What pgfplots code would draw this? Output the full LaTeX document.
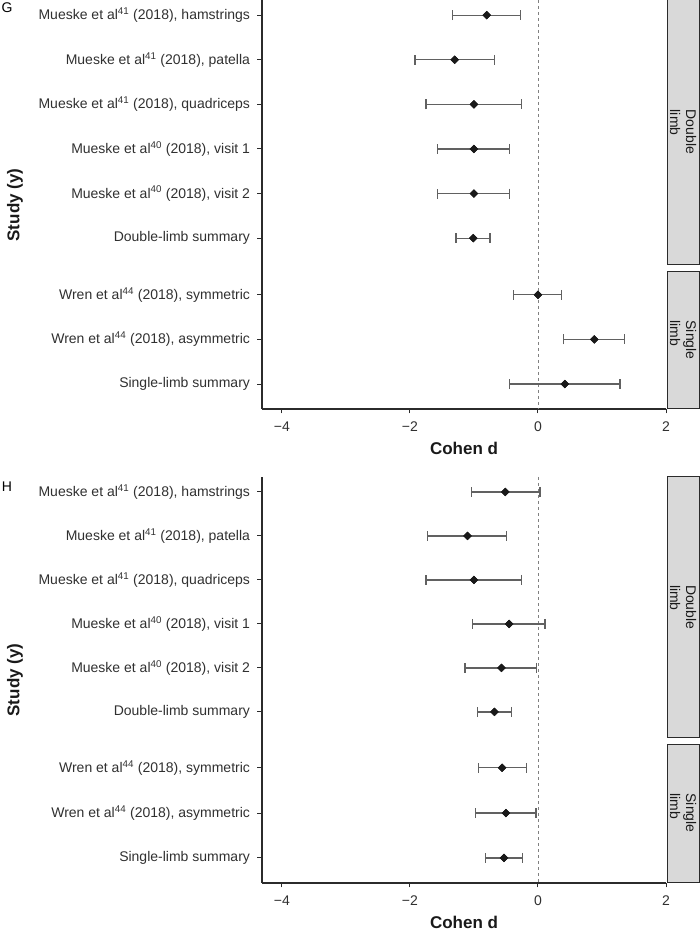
\documentclass[border=0pt]{standalone}
\usepackage{fontspec}
\setmainfont{Liberation Sans}
\usepackage{pgfplots}
\pgfplotsset{compat=1.18}
\usepackage{pgfplotstable}
\definecolor{axcol}{HTML}{2B2B2B}
\definecolor{txtcol}{HTML}{303030}
\definecolor{stripfill}{HTML}{D9D9D9}
\definecolor{barcol}{HTML}{616161}
\definecolor{zerocol}{HTML}{808080}

% pos = -(row position), d = Cohen d, em/ep = distances to lower/upper CI limit
\pgfplotstableread{
pos d em ep
0 -0.80 0.54 0.53
-1 -1.30 0.62 0.62
-2 -1.00 0.75 0.74
-3 -1.00 0.57 0.56
-4 -1.00 0.57 0.56
-5 -1.01 0.27 0.26
-6.27 0.00 0.38 0.37
-7.27 0.88 0.48 0.47
-8.27 0.42 0.86 0.86
}\dataG

\pgfplotstableread{
pos d em ep
0 -0.51 0.53 0.54
-1 -1.10 0.62 0.61
-2 -1.00 0.75 0.74
-3 -0.45 0.57 0.56
-4 -0.57 0.57 0.55
-5 -0.68 0.27 0.27
-6.27 -0.56 0.37 0.38
-7.30 -0.50 0.47 0.47
-8.32 -0.53 0.29 0.29
}\dataH

\newcommand{\tfont}{\fontsize{14}{16}\selectfont}
\newcommand{\Tfont}{\fontsize{17}{20}\selectfont\bfseries}

\pgfplotsset{
  forest/.style={
    scale only axis, width=404pt,
    xmin=-4.31, xmax=2,
    axis x line*=bottom, axis y line*=left,
    axis line style={axcol, line width=1.2pt},
    tick style={axcol, line width=1pt},
    tick align=outside, major tick length=4.5pt,
    xtick={-4,-2,0,2}, xticklabels={−4,−2,0,2},
    ticklabel style={font=\tfont, text=txtcol},
    xticklabel style={yshift=-5pt},
    yticklabel style={xshift=-4pt},
    clip=false,
  },
  errs/.style={only marks, mark=square*, mark size=2.7pt,
    mark options={rotate=45, fill=black!90, draw=black!90},
    error bars/.cd, x dir=both, x explicit, error mark=|,
    error bar style={barcol, line width=1.25pt},
    error mark options={barcol, line width=1.25pt, mark size=5pt}},
  pts/.style={only marks, mark=square*, mark size=2.8pt,
    mark options={rotate=45, fill=black!90, draw=black!90}},
}

\begin{document}
\begin{tikzpicture}
\useasboundingbox (0,0) rectangle (700pt,951pt);

% ---------------- Panel G ----------------
\begin{axis}[forest, at={(262pt,542pt)}, anchor=south west, height=409pt,
  ymin=-8.83, ymax=0.34,
  ytick={-8.27,-7.27,-6.27,-5,-4,-3,-2,-1,0},
  yticklabels={Single-limb summary,
    Wren et al\textsuperscript{44} (2018){,} asymmetric,
    Wren et al\textsuperscript{44} (2018){,} symmetric,
    Double-limb summary,
    Mueske et al\textsuperscript{40} (2018){,} visit 2,
    Mueske et al\textsuperscript{40} (2018){,} visit 1,
    Mueske et al\textsuperscript{41} (2018){,} quadriceps,
    Mueske et al\textsuperscript{41} (2018){,} patella,
    Mueske et al\textsuperscript{41} (2018){,} hamstrings},
]
\addplot[zerocol, line width=0.9pt, dash pattern=on 3pt off 3pt] coordinates {(0,0.34) (0,-8.83)};
\addplot[errs] table[x=d, y=pos, x error plus=ep, x error minus=em] {\dataG};
\addplot[pts] table[x=d, y=pos] {\dataG};
\draw[axcol, fill=stripfill, line width=1pt] (axis cs:2.016,0.34) rectangle (axis cs:2.518,-5.58);
\draw[axcol, fill=stripfill, line width=1pt] (axis cs:2.016,-5.74) rectangle (axis cs:2.518,-8.83);
\node[rotate=-90, align=left, font=\tfont, text=black!90, inner sep=0pt] at (axis cs:2.267,-2.62) {Double\\limb};
\node[rotate=-90, align=left, font=\tfont, text=black!90, inner sep=0pt] at (axis cs:2.267,-7.285) {Single\\limb};
\end{axis}

% ---------------- Panel H ----------------
\begin{axis}[forest, at={(262pt,68pt)}, anchor=south west, height=406pt,
  ymin=-8.89, ymax=0.34,
  ytick={-8.32,-7.30,-6.27,-5,-4,-3,-2,-1,0},
  yticklabels={Single-limb summary,
    Wren et al\textsuperscript{44} (2018){,} asymmetric,
    Wren et al\textsuperscript{44} (2018){,} symmetric,
    Double-limb summary,
    Mueske et al\textsuperscript{40} (2018){,} visit 2,
    Mueske et al\textsuperscript{40} (2018){,} visit 1,
    Mueske et al\textsuperscript{41} (2018){,} quadriceps,
    Mueske et al\textsuperscript{41} (2018){,} patella,
    Mueske et al\textsuperscript{41} (2018){,} hamstrings},
]
\addplot[zerocol, line width=0.9pt, dash pattern=on 3pt off 3pt] coordinates {(0,0.34) (0,-8.89)};
\addplot[errs] table[x=d, y=pos, x error plus=ep, x error minus=em] {\dataH};
\addplot[pts] table[x=d, y=pos] {\dataH};
\draw[axcol, fill=stripfill, line width=1pt] (axis cs:2.016,0.34) rectangle (axis cs:2.518,-5.59);
\draw[axcol, fill=stripfill, line width=1pt] (axis cs:2.016,-5.73) rectangle (axis cs:2.518,-8.87);
\node[rotate=-90, align=left, font=\tfont, text=black!90, inner sep=0pt] at (axis cs:2.267,-2.62) {Double\\limb};
\node[rotate=-90, align=left, font=\tfont, text=black!90, inner sep=0pt] at (axis cs:2.267,-7.30) {Single\\limb};
\end{axis}

% titles and panel letters
\node[font=\fontsize{14}{16}\selectfont, text=black] at (7pt,943pt) {G};
\node[font=\fontsize{14}{16}\selectfont, text=black] at (7pt,464pt) {H};
\node[font=\Tfont, rotate=90, text=black!90] at (15pt,746pt) {Study (y)};
\node[font=\Tfont, rotate=90, text=black!90] at (15pt,271pt) {Study (y)};
\node[font=\Tfont, text=black!90] at (464pt,503pt) {Cohen d};
\node[font=\Tfont, text=black!90] at (464pt,29pt) {Cohen d};
\end{tikzpicture}
\end{document}
